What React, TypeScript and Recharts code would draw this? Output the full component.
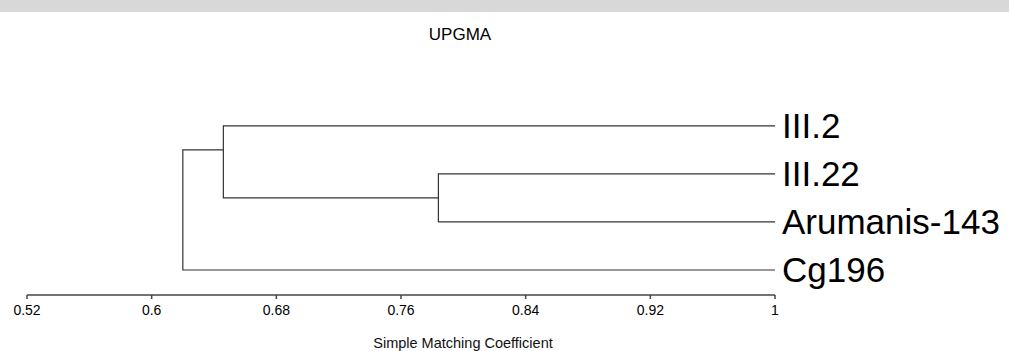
import React from 'react';
import { LineChart, Line, XAxis, YAxis, Customized } from 'recharts';

// leaves, top to bottom
const leafNames = ['III.2', 'III.22', 'Arumanis-143', 'Cg196'];

// UPGMA merges: which two groups join, and at what similarity
const clusterNames = ['A', 'B', 'C'];
const clusterLeft = ['III.22', 'III.2', 'B'];
const clusterRight = ['Arumanis-143', 'A', 'Cg196'];
const clusterLevel = [0.784, 0.646, 0.62];

const xTicks = [0.52, 0.6, 0.68, 0.76, 0.84, 0.92, 1];

const FONT = '"Liberation Sans", Arial, sans-serif';
const LINE = '#333';

type Node = { x: number; y: number; first: number };

const nodes: Record<string, Node> = {};
leafNames.forEach((name, i) => {
  nodes[name] = { x: 1, y: i, first: i };
});
clusterNames.forEach((name, i) => {
  const l = nodes[clusterLeft[i]];
  const r = nodes[clusterRight[i]];
  nodes[name] = {
    x: clusterLevel[i],
    y: (l.first + r.first) / 2,
    first: Math.min(l.first, r.first)
  };
});

// each merge is drawn as a bracket: left arm, vertical, right arm
const brackets = clusterNames.map((name, i) => {
  const l = nodes[clusterLeft[i]];
  const r = nodes[clusterRight[i]];
  return {
    name,
    data: [
      { x: l.x, y: l.y },
      { x: clusterLevel[i], y: l.y },
      { x: clusterLevel[i], y: r.y },
      { x: r.x, y: r.y }
    ]
  };
});

function Label({ x, y, size, anchor = 'start', fill = '#000', children }: any) {
  return (
    <text x={x} y={y} fontSize={size} fontFamily={FONT} textAnchor={anchor} fill={fill}>
      {children}
    </text>
  );
}

const XTick = ({ x, y, payload }: any) => (
  <Label x={x} y={y + 14} size={14} anchor="middle">
    {payload.value}
  </Label>
);

const LeafTick = ({ x, y, payload }: any) => (
  <Label x={x + 5} y={y + 12} size={35}>
    {leafNames[payload.value]}
  </Label>
);

const Titles = () => (
  <g>
    <rect x={0} y={0} width={1009} height={12} fill="#d8d8d8" />
    <Label x={460} y={40} size={17} anchor="middle">UPGMA</Label>
    <Label x={463} y={348} size={14.5} anchor="middle" fill="#111">
      Simple Matching Coefficient
    </Label>
  </g>
);

export default function App() {
  return (
    <div style={{ position: 'absolute', left: 0, top: 0, background: '#fff' }}>
      <LineChart
        width={1009}
        height={351}
        margin={{ top: 97, right: 0, bottom: 26, left: 27 }}
      >
        <XAxis
          type="number"
          dataKey="x"
          domain={[0.52, 1]}
          ticks={xTicks}
          interval={0}
          tickSize={4}
          height={30}
          stroke="#444"
          strokeWidth={1.5}
          tick={<XTick />}
        />
        <YAxis
          type="number"
          dataKey="y"
          orientation="right"
          reversed
          domain={[-0.6, 3.52]}
          ticks={[0, 1, 2, 3]}
          interval={0}
          width={234}
          axisLine={false}
          tickLine={false}
          tickSize={0}
          tick={<LeafTick />}
        />
        {brackets.map((b) => (
          <Line
            key={b.name}
            data={b.data}
            dataKey="y"
            type="linear"
            stroke={LINE}
            strokeWidth={1.2}
            dot={false}
            activeDot={false}
            isAnimationActive={false}
          />
        ))}
        <Customized component={Titles} />
      </LineChart>
    </div>
  );
}
